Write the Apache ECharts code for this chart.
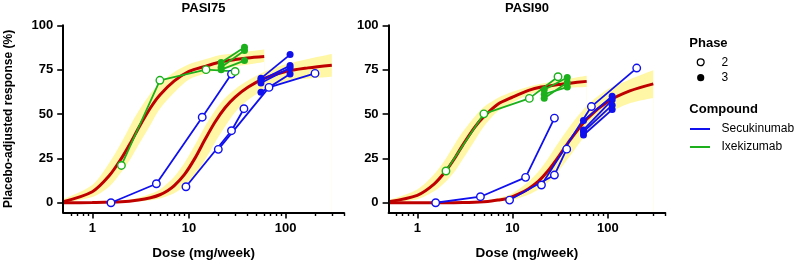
<!DOCTYPE html>
<html><head><meta charset="utf-8">
<script src="https://cdn.jsdelivr.net/npm/echarts@6/dist/echarts.min.js"></script>
<style>html,body{margin:0;padding:0;background:#fff}#c{width:796px;height:261px}</style>
</head><body><div id="c"></div>
<script>
// ---------- tick labels ----------
const xMajorTicks = [1, 10, 100];
const xMinorTicks = [0.6, 0.7, 0.8, 0.9, 2, 3, 4, 5, 6, 7, 8, 9, 20, 30, 40, 50, 60, 70, 80, 90, 200, 300, 400];
const yTicks = [0, 25, 50, 75, 100];
const panelTitles = ['PASI75', 'PASI90'];

// ---------- observed study data (dose mg/week, placebo-adjusted response %) ----------
// Secukinumab phase 2 studies
const secA_dose = [1.56, 4.6, 13.7, 27.5];
const secA_p75 = [0, 10.7, 48.2, 72.5];
const secA_p90 = [0, 3.4, 14.3, 47.7];
const secB_dose = [9.3, 27.5, 37];
const secB_p75 = [9, 40.6, 53];
const secB_p90 = [1.5, 15.6, 30.2];
const secC_dose = [20.1, 67.2, 201];
const secC_p75 = [30.1, 65, 72.9];
const secC_p90 = [10, 54.2, 75.9];
// Secukinumab phase 3 studies
const secP3_dose = [55.5, 111];
const secP3_p75 = [[70.1, 83.5], [69, 77.3], [67.5, 76], [62.2, 72.5]];
const secP3_p90 = [[46.3, 60], [41, 58], [40, 55], [38.2, 52.5]];
// Ixekizumab phase 2 study
const ixeP2_dose = [2, 5, 15, 30];
const ixeP2_p75 = [21, 69, 75, 74];
const ixeP2_p90 = [17.9, 50.1, 58.8, 71];
// Ixekizumab phase 3 studies
const ixeP3_dose = [21.5, 37.5];
const ixeP3_p75 = [[79, 87.6], [76.4, 85.8], [75, 80.1]];
const ixeP3_p90 = [[63.7, 70.6], [61.2, 65.2], [58.9, 67.8]];

// ---------- model curves ----------
const ixeCurveDose = [0.5, 1, 1.5, 2, 2.5, 3, 4, 5, 7, 10, 15, 20, 30, 40, 60];
const ixe75_fit = [0.6, 6.2, 15.3, 25, 34, 42, 53.5, 60.7, 68.5, 74, 77, 79, 80.7, 81.6, 82.4];
const ixe75_hi  = [2, 10, 22.5, 34, 44, 51.5, 61.5, 67, 73.5, 78, 81, 83, 84.3, 85.2, 86.4];
const ixe75_lo  = [0, 3.2, 9.2, 17.3, 25, 32.5, 44, 53, 62, 69.5, 73, 74.8, 76.8, 77.8, 79.3];
const ixe90_fit = [0.6, 4.2, 10.5, 18, 25.5, 32.5, 42.5, 48.5, 55.5, 59.5, 63.5, 65.2, 66.6, 67.4, 68.4];
const ixe90_hi  = [1.5, 7.5, 16, 25, 33.5, 40, 48.5, 54, 59, 62.5, 65.5, 67, 69, 70, 71.6];
const ixe90_lo  = [0, 2, 6.5, 12, 18, 24.5, 35, 43, 51.5, 56.5, 61, 62.5, 64, 64.8, 65.2];

const secCurveDose = [0.5, 1, 2, 3, 4, 5, 6, 7, 9, 11.5, 14.6, 18.6, 23.6, 30, 41, 61, 100, 170, 300];
const sec75_fit = [0, 0.1, 0.5, 1.5, 2.8, 4.5, 6.8, 9.5, 16, 25, 35.5, 45.5, 53.5, 59.5, 65.2, 70.2, 74, 76, 77.5];
const sec75_hi  = [0, 0.3, 1, 2.8, 5, 7.5, 11, 14.5, 22.5, 32.5, 43, 52, 59, 64, 69, 74, 78, 81, 83.8];
const sec75_lo  = [0, 0, 0.2, 0.7, 1.4, 2.4, 3.8, 5.3, 9.5, 15.5, 24, 34, 43, 51, 58, 64, 68.5, 70, 71];
const sec90_fit = [0, 0, 0, 0.1, 0.3, 0.6, 1, 1.5, 2.5, 4.8, 7.8, 12, 18, 25.5, 36, 47.5, 57, 63, 67];
const sec90_hi  = [0, 0, 0.1, 0.3, 0.6, 1.1, 1.8, 2.6, 4.2, 7.5, 11.8, 17.5, 25, 33.5, 44, 55, 64, 69.5, 74.6];
const sec90_lo  = [0, 0, 0, 0, 0.1, 0.2, 0.4, 0.7, 1.3, 2.6, 4.5, 7.5, 11.5, 17.5, 27, 39.5, 50, 56, 59];

// ---------- styles ----------
const FONT = '"Liberation Sans", Arial, sans-serif';
const BLUE = '#1010EE', GREEN = '#1CB01C', RED = '#BF0000', YELLOW = '#FFF7A5';
const SMOOTH = 0.3;

const pairs = (xs, ys) => xs.map((x, i) => [x, ys[i]]);

// band = yellow area under upper bound, then white area under lower bound
function band(name, xs, lo, hi, xi, yi) {
  const common = { type: 'line', xAxisIndex: xi, yAxisIndex: yi, symbol: 'none',
    smooth: SMOOTH, silent: true, animation: false, z: 1, lineStyle: { width: 0, opacity: 0 } };
  return [
    Object.assign({}, common, { name: name + '_hi', data: pairs(xs, hi), areaStyle: { color: YELLOW, opacity: 1, origin: 'start' } }),
    Object.assign({}, common, { name: name + '_lo', data: pairs(xs, lo), areaStyle: { color: '#fff', opacity: 1, origin: 'start' } })
  ];
}
function fit(name, xs, ys, xi, yi) {
  return { type: 'line', name, xAxisIndex: xi, yAxisIndex: yi, data: pairs(xs, ys), symbol: 'none',
    smooth: SMOOTH, lineStyle: { color: RED, width: 3 }, silent: true, animation: false, z: 2 };
}
function study(name, xs, ys, color, filled, xi, yi) {
  return { type: 'line', name, xAxisIndex: xi, yAxisIndex: yi, data: pairs(xs, ys),
    symbol: 'circle', symbolSize: filled ? 7 : 7.5, showAllSymbol: true,
    lineStyle: { color, width: 1.8 },
    itemStyle: filled ? { color, borderWidth: 0 } : { color: '#fff', borderColor: color, borderWidth: 1.4 },
    silent: true, animation: false, z: 3 };
}

function xAxes(grid) {
  return [
    { type: 'log', gridIndex: grid, position: 'bottom', min: 0.5, max: 400, logBase: 10, z: 5,
      axisLine: { show: true, onZero: false, lineStyle: { color: '#000', width: 2 } },
      axisTick: { show: true, customValues: xMajorTicks, length: 6, lineStyle: { color: '#000', width: 1.6 } },
      axisLabel: { show: true, customValues: xMajorTicks, fontSize: 13, fontWeight: 'bold', color: '#000', margin: 9, fontFamily: FONT },
      splitLine: { show: false },
      name: 'Dose (mg/week)', nameLocation: 'middle', nameGap: 33.5,
      nameTextStyle: { fontSize: 13.5, fontWeight: 'bold', color: '#000', fontFamily: FONT } },
    { type: 'log', gridIndex: grid, position: 'bottom', offset: 0, min: 0.5, max: 400, logBase: 10, z: 5,
      axisLine: { show: false, onZero: false },
      axisTick: { show: true, customValues: xMinorTicks, length: 3.5, lineStyle: { color: '#000', width: 1.4 } },
      axisLabel: { show: false }, splitLine: { show: false } }
  ];
}
function yAxis(grid, withName) {
  const ax = { type: 'value', gridIndex: grid, min: -5.5, max: 100, z: 5,
    axisLine: { show: true, onZero: false, lineStyle: { color: '#000', width: 2 } },
    axisTick: { show: true, customValues: yTicks, length: 6, lineStyle: { color: '#000', width: 1.6 } },
    axisLabel: { show: true, customValues: yTicks, fontSize: 13, fontWeight: 'bold', color: '#000', margin: 10, fontFamily: FONT },
    splitLine: { show: false } };
  if (withName) {
    ax.name = 'Placebo-adjusted response (%)';
    ax.nameLocation = 'middle';
    ax.nameGap = 49;
    ax.nameTextStyle = { fontSize: 12, fontWeight: 'bold', color: '#000', fontFamily: FONT };
  }
  return ax;
}

const series = [];
const panels = [
  { xi: 0, yi: 0, ixeFit: ixe75_fit, ixeLo: ixe75_lo, ixeHi: ixe75_hi, secFit: sec75_fit, secLo: sec75_lo, secHi: sec75_hi,
    secA: secA_p75, secB: secB_p75, secC: secC_p75, secP3: secP3_p75, ixeP2: ixeP2_p75, ixeP3: ixeP3_p75 },
  { xi: 2, yi: 1, ixeFit: ixe90_fit, ixeLo: ixe90_lo, ixeHi: ixe90_hi, secFit: sec90_fit, secLo: sec90_lo, secHi: sec90_hi,
    secA: secA_p90, secB: secB_p90, secC: secC_p90, secP3: secP3_p90, ixeP2: ixeP2_p90, ixeP3: ixeP3_p90 }
];
panels.forEach((p, k) => {
  series.push(...band('ixeBand' + k, ixeCurveDose, p.ixeLo, p.ixeHi, p.xi, p.yi));
  series.push(...band('secBand' + k, secCurveDose, p.secLo, p.secHi, p.xi, p.yi));
  series.push(fit('ixeFit' + k, ixeCurveDose, p.ixeFit, p.xi, p.yi));
  series.push(fit('secFit' + k, secCurveDose, p.secFit, p.xi, p.yi));
  series.push(study('secA' + k, secA_dose, p.secA, BLUE, false, p.xi, p.yi));
  series.push(study('secB' + k, secB_dose, p.secB, BLUE, false, p.xi, p.yi));
  series.push(study('secC' + k, secC_dose, p.secC, BLUE, false, p.xi, p.yi));
  p.secP3.forEach((v, j) => series.push(study('secP3_' + k + '_' + j, secP3_dose, v, BLUE, true, p.xi, p.yi)));
  series.push(study('ixeP2' + k, ixeP2_dose, p.ixeP2, GREEN, false, p.xi, p.yi));
  p.ixeP3.forEach((v, j) => series.push(study('ixeP3_' + k + '_' + j, ixeP3_dose, v, GREEN, true, p.xi, p.yi)));
});

const txt = (x, y, text, size, bold, align) => ({ type: 'text', x, y, silent: true,
  style: { text, fill: '#000', font: (bold ? 'bold ' : '') + size + 'px ' + FONT, align: align || 'left', verticalAlign: 'middle' } });

const option = {
  animation: false,
  backgroundColor: '#fff',
  grid: [
    { left: 63.2, top: 25.3, width: 280.7, height: 187.2, outerBoundsMode: 'none', containLabel: false },
    { left: 388.6, top: 25.3, width: 276.6, height: 187.2, outerBoundsMode: 'none', containLabel: false }
  ],
  xAxis: [...xAxes(0), ...xAxes(1)],
  yAxis: [yAxis(0, true), yAxis(1, false)],
  series,
  graphic: [
    txt(203.5, 8, panelTitles[0], 13, true, 'center'),
    txt(527, 8, panelTitles[1], 13, true, 'center'),
    txt(689.3, 43, 'Phase', 13, true),
    { type: 'circle', shape: { cx: 700.7, cy: 62.3, r: 3.4 }, style: { fill: '#fff', stroke: '#000', lineWidth: 1.3 } },
    txt(721.5, 62.5, '2', 12, false),
    { type: 'circle', shape: { cx: 700.7, cy: 77.7, r: 3.6 }, style: { fill: '#000' } },
    txt(721.5, 78, '3', 12, false),
    txt(689.3, 109.5, 'Compound', 13, true),
    { type: 'line', shape: { x1: 690, y1: 129, x2: 710, y2: 129 }, style: { stroke: BLUE, lineWidth: 2 } },
    txt(721.5, 129, 'Secukinumab', 12, false),
    { type: 'line', shape: { x1: 690, y1: 147, x2: 710, y2: 147 }, style: { stroke: GREEN, lineWidth: 2 } },
    txt(721.5, 147, 'Ixekizumab', 12, false)
  ]
};
const chart = echarts.init(document.getElementById('c'), null, { renderer: 'canvas' });
chart.setOption(option);
</script></body></html>
